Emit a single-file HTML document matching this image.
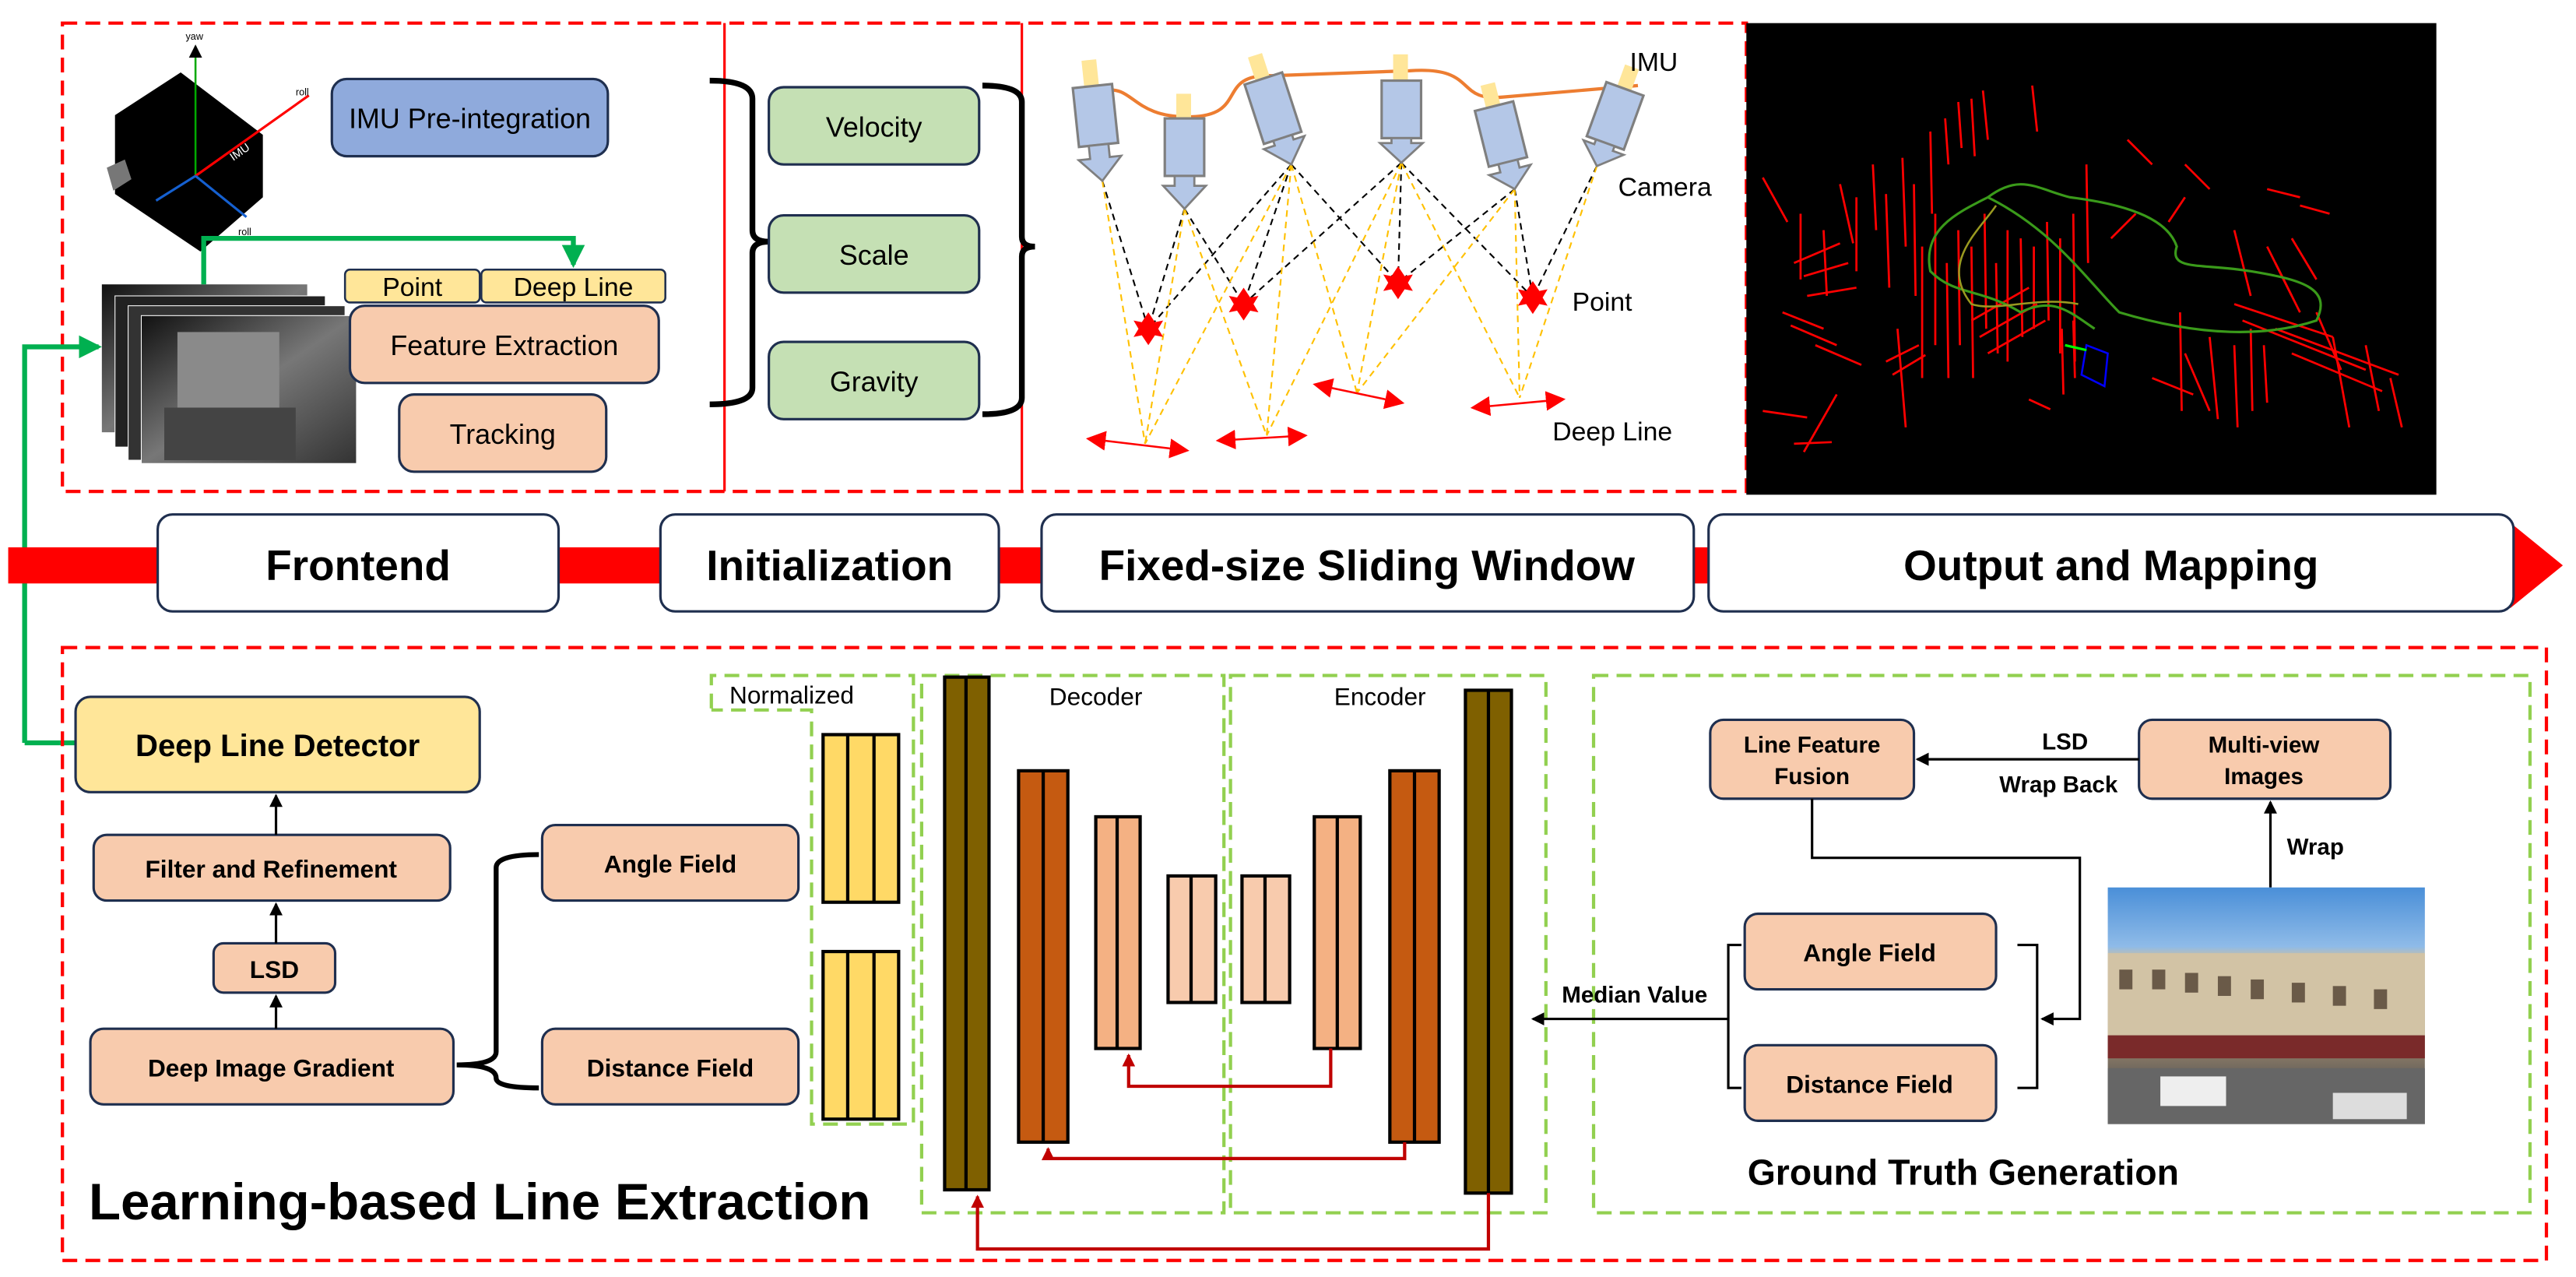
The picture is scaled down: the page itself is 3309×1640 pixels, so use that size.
<!DOCTYPE html>
<html><head><meta charset="utf-8"><style>
html,body{margin:0;padding:0;background:#fff;}
svg{display:block;}
text{font-family:"Liberation Sans","DejaVu Sans",sans-serif;fill:#000;}
</style></head><body>
<svg width="3309" height="1640" viewBox="0 0 1568 777" xmlns="http://www.w3.org/2000/svg">
<defs>
<marker id="ab" markerWidth="8" markerHeight="8" refX="7" refY="4" orient="auto" markerUnits="userSpaceOnUse"><path d="M0,0 L8,4 L0,8 z" fill="#000"/></marker>
<marker id="ag" markerWidth="14" markerHeight="14" refX="12" refY="7" orient="auto" markerUnits="userSpaceOnUse"><path d="M0,0 L14,7 L0,14 z" fill="#00b050"/></marker>
<marker id="ar" markerWidth="8" markerHeight="8" refX="7" refY="4" orient="auto" markerUnits="userSpaceOnUse"><path d="M0,0 L8,4 L0,8 z" fill="#c00000"/></marker>
<marker id="rr" markerWidth="12" markerHeight="12" refX="10" refY="6" orient="auto-start-reverse" markerUnits="userSpaceOnUse"><path d="M0,0 L12,6 L0,12 z" fill="#f00"/></marker>
<linearGradient id="gimg" x1="0" y1="0" x2="1" y2="1"><stop offset="0" stop-color="#111"/><stop offset="0.5" stop-color="#777"/><stop offset="1" stop-color="#333"/></linearGradient>
<linearGradient id="street" x1="0" y1="0" x2="0" y2="1"><stop offset="0" stop-color="#4a8fd8"/><stop offset="0.25" stop-color="#8fbbe8"/><stop offset="0.3" stop-color="#cdbfa0"/><stop offset="0.7" stop-color="#8a7a66"/><stop offset="0.85" stop-color="#555"/><stop offset="1" stop-color="#888"/></linearGradient>
</defs>

<rect x="38" y="14" width="1025" height="285" fill="none" stroke="#f00" stroke-width="2" stroke-dasharray="9,5"/>
<line x1="441" y1="14" x2="441" y2="299" stroke="#f00" stroke-width="1.5"/>
<line x1="622" y1="14" x2="622" y2="299" stroke="#f00" stroke-width="1.5"/>

<polygon points="70,70 110,44 160,82 160,120 122,153 70,118" fill="#000"/>
<polygon points="65,102 76,97 80,109 69,116" fill="#777"/>
<line x1="119" y1="107" x2="119" y2="28" stroke="#0a0" stroke-width="1.2" marker-end="url(#ab)"/>
<line x1="119" y1="107" x2="188" y2="58" stroke="#f00" stroke-width="1.5"/>
<line x1="119" y1="107" x2="150" y2="132" stroke="#1560d0" stroke-width="1.5"/>
<line x1="119" y1="107" x2="95" y2="122" stroke="#1560d0" stroke-width="1.5"/>
<text x="113" y="24" font-size="6">yaw</text>
<text x="180" y="58" font-size="6">roll</text>
<text x="145" y="143" font-size="6">roll</text>
<text x="142" y="98" font-size="7" style="fill:#fff" transform="rotate(-35 142 98)">IMU</text>

<rect x="202" y="48" width="168" height="47" rx="9" fill="#8faadc" stroke="#1f2f4f" stroke-width="1.5"/>
<text x="286" y="78" font-size="17" text-anchor="middle">IMU Pre-integration</text>

<rect x="62" y="173" width="125" height="90" fill="url(#gimg)"/>
<rect x="70" y="180" width="128" height="92" fill="#222" stroke="#fff" stroke-width="0.5"/>
<rect x="78" y="186" width="132" height="94" fill="#333" stroke="#fff" stroke-width="0.5"/>
<rect x="86" y="192" width="131" height="90" fill="url(#gimg)" stroke="#fff" stroke-width="0.5"/>
<rect x="108" y="202" width="62" height="50" fill="#8a8a8a"/>
<rect x="100" y="248" width="80" height="32" fill="#444"/>
<polyline points="124,173 124,145 349,145 349,161" fill="none" stroke="#00b050" stroke-width="3" marker-end="url(#ag)"/>
<polyline points="15,452 15,211 60,211" fill="none" stroke="#00b050" stroke-width="3" marker-end="url(#ag)"/>
<line x1="15" y1="452" x2="46" y2="452" stroke="#00b050" stroke-width="3"/>

<rect x="210" y="164" width="82" height="20" rx="3" fill="#ffe699" stroke="#1f2f4f" stroke-width="1.2"/>
<text x="251" y="180" font-size="16" text-anchor="middle">Point</text>
<rect x="293" y="164" width="112" height="20" rx="3" fill="#ffe699" stroke="#1f2f4f" stroke-width="1.2"/>
<text x="349" y="180" font-size="16" text-anchor="middle">Deep Line</text>
<rect x="213" y="186" width="188" height="47" rx="9" fill="#f8cbad" stroke="#1f2f4f" stroke-width="1.5"/>
<text x="307" y="216" font-size="17" text-anchor="middle">Feature Extraction</text>
<rect x="243" y="240" width="126" height="47" rx="9" fill="#f8cbad" stroke="#1f2f4f" stroke-width="1.5"/>
<text x="306" y="270" font-size="17" text-anchor="middle">Tracking</text>

<path d="M432,49 Q458,49 458,60 L458,140 Q458,147 468,147 Q458,147 458,154 L458,236 Q458,246 432,246" fill="none" stroke="#000" stroke-width="3.5"/>

<rect x="468" y="53" width="128" height="47" rx="9" fill="#c5e0b4" stroke="#1f2f4f" stroke-width="1.5"/>
<text x="532" y="83" font-size="17" text-anchor="middle">Velocity</text>
<rect x="468" y="131" width="128" height="47" rx="9" fill="#c5e0b4" stroke="#1f2f4f" stroke-width="1.5"/>
<text x="532" y="161" font-size="17" text-anchor="middle">Scale</text>
<rect x="468" y="208" width="128" height="47" rx="9" fill="#c5e0b4" stroke="#1f2f4f" stroke-width="1.5"/>
<text x="532" y="238" font-size="17" text-anchor="middle">Gravity</text>
<path d="M598,52 Q622,52 622,62 L622,144 Q622,150 630,150 Q622,150 622,156 L622,242 Q622,252 598,252" fill="none" stroke="#000" stroke-width="3.5"/>

<path d="M673,55 C690,52 690,72 725,71 C760,70 740,45 774,46 L858,43 C900,40 885,62 915,59 L997,52" fill="none" stroke="#ed7d31" stroke-width="2"/>
<g fill="none" stroke-dasharray="4,3" stroke-width="1">
<g stroke="#000">
<line x1="671" y1="110" x2="699" y2="200"/><line x1="721" y1="127" x2="699" y2="200"/><line x1="721" y1="127" x2="757" y2="185"/>
<line x1="786" y1="100" x2="699" y2="200"/><line x1="786" y1="100" x2="757" y2="185"/><line x1="786" y1="100" x2="851" y2="172"/>
<line x1="853" y1="99" x2="757" y2="185"/><line x1="853" y1="99" x2="851" y2="172"/><line x1="853" y1="99" x2="933" y2="181"/>
<line x1="922" y1="115" x2="851" y2="172"/><line x1="922" y1="115" x2="933" y2="181"/><line x1="972" y1="101" x2="933" y2="181"/>
</g>
<g stroke="#ffc000">
<line x1="671" y1="110" x2="697" y2="270"/><line x1="721" y1="127" x2="697" y2="270"/><line x1="786" y1="100" x2="697" y2="270"/>
<line x1="721" y1="127" x2="771" y2="265"/><line x1="786" y1="100" x2="771" y2="265"/><line x1="853" y1="99" x2="771" y2="265"/>
<line x1="786" y1="100" x2="826" y2="239"/><line x1="853" y1="99" x2="826" y2="239"/><line x1="922" y1="115" x2="826" y2="239"/>
<line x1="853" y1="99" x2="925" y2="242"/><line x1="922" y1="115" x2="925" y2="242"/><line x1="972" y1="101" x2="925" y2="242"/>
</g></g>
<g>
<g transform="translate(671,110) rotate(-6)"><rect x="-5" y="-74" width="9" height="16" fill="#ffe699"/><rect x="-12" y="-58" width="24" height="36" fill="#b4c7e7" stroke="#7f7f7f" stroke-width="1.5"/><polygon points="-6,-22 6,-22 6,-14 13,-14 0,0 -13,-14 -6,-14" fill="#b4c7e7" stroke="#7f7f7f" stroke-width="1.3"/></g>
<g transform="translate(721,127) rotate(0)"><rect x="-5" y="-70" width="9" height="16" fill="#ffe699"/><rect x="-12" y="-55" width="24" height="35" fill="#b4c7e7" stroke="#7f7f7f" stroke-width="1.5"/><polygon points="-6,-20 6,-20 6,-14 13,-14 0,0 -13,-14 -6,-14" fill="#b4c7e7" stroke="#7f7f7f" stroke-width="1.3"/></g>
<g transform="translate(786,100) rotate(-18)"><rect x="-5" y="-70" width="9" height="16" fill="#ffe699"/><rect x="-12" y="-55" width="24" height="38" fill="#b4c7e7" stroke="#7f7f7f" stroke-width="1.5"/><polygon points="-6,-17 6,-17 6,-14 13,-14 0,0 -13,-14 -6,-14" fill="#b4c7e7" stroke="#7f7f7f" stroke-width="1.3"/></g>
<g transform="translate(853,99)"><rect x="-5" y="-66" width="9" height="16" fill="#ffe699"/><rect x="-12" y="-50" width="24" height="35" fill="#b4c7e7" stroke="#7f7f7f" stroke-width="1.5"/><polygon points="-6,-15 6,-15 6,-12 13,-12 0,0 -13,-12 -6,-12" fill="#b4c7e7" stroke="#7f7f7f" stroke-width="1.3"/></g>
<g transform="translate(922,115) rotate(-14)"><rect x="-5" y="-66" width="9" height="16" fill="#ffe699"/><rect x="-12" y="-52" width="24" height="35" fill="#b4c7e7" stroke="#7f7f7f" stroke-width="1.5"/><polygon points="-6,-17 6,-17 6,-12 13,-12 0,0 -13,-12 -6,-12" fill="#b4c7e7" stroke="#7f7f7f" stroke-width="1.3"/></g>
<g transform="translate(972,101) rotate(20)"><rect x="-5" y="-64" width="9" height="16" fill="#ffe699"/><rect x="-12" y="-50" width="24" height="35" fill="#b4c7e7" stroke="#7f7f7f" stroke-width="1.5"/><polygon points="-6,-15 6,-15 6,-12 13,-12 0,0 -13,-12 -6,-12" fill="#b4c7e7" stroke="#7f7f7f" stroke-width="1.3"/></g>
</g>
<g fill="#f00">
<polygon transform="translate(699,200)" points="0,-10 4,-4 9,-5 6,0 9,5 4,4 0,10 -4,4 -9,5 -6,0 -9,-5 -4,-4"/>
<polygon transform="translate(757,185)" points="0,-10 4,-4 9,-5 6,0 9,5 4,4 0,10 -4,4 -9,5 -6,0 -9,-5 -4,-4"/>
<polygon transform="translate(851,172)" points="0,-10 4,-4 9,-5 6,0 9,5 4,4 0,10 -4,4 -9,5 -6,0 -9,-5 -4,-4"/>
<polygon transform="translate(933,181)" points="0,-10 4,-4 9,-5 6,0 9,5 4,4 0,10 -4,4 -9,5 -6,0 -9,-5 -4,-4"/>
</g>
<g stroke="#f00" stroke-width="1.2" marker-start="url(#rr)" marker-end="url(#rr)">
<line x1="663" y1="267" x2="722" y2="274"/><line x1="742" y1="268" x2="794" y2="265"/>
<line x1="801" y1="234" x2="853" y2="245"/><line x1="897" y1="248" x2="951" y2="243"/>
</g>
<text x="992" y="43" font-size="16">IMU</text>
<text x="985" y="119" font-size="16">Camera</text>
<text x="957" y="189" font-size="16">Point</text>
<text x="945" y="268" font-size="16">Deep Line</text>

<rect x="1063" y="14" width="420" height="287" fill="#000"/>
<g stroke="#f00" stroke-width="1.3">
<line x1="1073" y1="108" x2="1088" y2="135"/><line x1="1096" y1="130" x2="1096" y2="170"/><line x1="1110" y1="140" x2="1112" y2="180"/>
<line x1="1120" y1="112" x2="1128" y2="148"/><line x1="1130" y1="120" x2="1130" y2="165"/><line x1="1140" y1="100" x2="1142" y2="140"/>
<line x1="1148" y1="118" x2="1150" y2="175"/><line x1="1158" y1="96" x2="1160" y2="150"/><line x1="1165" y1="112" x2="1166" y2="180"/>
<line x1="1175" y1="80" x2="1176" y2="130"/><line x1="1184" y1="72" x2="1186" y2="100"/><line x1="1192" y1="62" x2="1194" y2="90"/>
<line x1="1200" y1="60" x2="1202" y2="95"/><line x1="1207" y1="55" x2="1210" y2="85"/><line x1="1237" y1="52" x2="1240" y2="80"/>
<line x1="1092" y1="160" x2="1120" y2="148"/><line x1="1098" y1="168" x2="1125" y2="160"/><line x1="1100" y1="180" x2="1130" y2="175"/>
<line x1="1085" y1="190" x2="1110" y2="200"/><line x1="1090" y1="198" x2="1118" y2="210"/><line x1="1105" y1="210" x2="1133" y2="222"/>
<line x1="1118" y1="240" x2="1098" y2="275" /><line x1="1073" y1="250" x2="1100" y2="254"/><line x1="1092" y1="270" x2="1115" y2="269"/>
<line x1="1148" y1="220" x2="1168" y2="210"/><line x1="1152" y1="228" x2="1172" y2="216"/><line x1="1155" y1="200" x2="1160" y2="260"/>
<line x1="1170" y1="150" x2="1170" y2="230"/><line x1="1178" y1="130" x2="1178" y2="210"/><line x1="1185" y1="160" x2="1186" y2="230"/>
<line x1="1192" y1="140" x2="1193" y2="210"/><line x1="1200" y1="150" x2="1201" y2="230"/><line x1="1208" y1="130" x2="1209" y2="200"/>
<line x1="1215" y1="160" x2="1216" y2="215"/><line x1="1222" y1="140" x2="1222" y2="220"/><line x1="1230" y1="145" x2="1231" y2="205"/>
<line x1="1238" y1="150" x2="1238" y2="200"/><line x1="1246" y1="135" x2="1247" y2="195"/><line x1="1254" y1="145" x2="1254" y2="215"/>
<line x1="1262" y1="130" x2="1263" y2="220"/><line x1="1270" y1="100" x2="1271" y2="160"/><line x1="1200" y1="195" x2="1235" y2="175"/>
<line x1="1205" y1="205" x2="1240" y2="185"/><line x1="1210" y1="215" x2="1245" y2="195"/><line x1="1255" y1="200" x2="1256" y2="240"/>
<line x1="1262" y1="195" x2="1263" y2="230"/><line x1="1285" y1="145" x2="1300" y2="130"/><line x1="1295" y1="85" x2="1310" y2="100"/>
<line x1="1330" y1="100" x2="1345" y2="115"/><line x1="1320" y1="135" x2="1330" y2="120"/><line x1="1310" y1="230" x2="1335" y2="240"/>
<line x1="1330" y1="215" x2="1345" y2="250"/><line x1="1345" y1="205" x2="1350" y2="255"/><line x1="1360" y1="210" x2="1362" y2="260"/>
<line x1="1370" y1="200" x2="1371" y2="250"/><line x1="1378" y1="210" x2="1380" y2="245"/><line x1="1360" y1="185" x2="1420" y2="205"/>
<line x1="1365" y1="195" x2="1440" y2="225"/><line x1="1385" y1="200" x2="1460" y2="228"/><line x1="1395" y1="215" x2="1450" y2="238"/>
<line x1="1420" y1="205" x2="1430" y2="260"/><line x1="1440" y1="210" x2="1448" y2="250"/><line x1="1455" y1="230" x2="1462" y2="260"/>
<line x1="1360" y1="140" x2="1370" y2="180"/><line x1="1380" y1="150" x2="1395" y2="180"/><line x1="1385" y1="160" x2="1400" y2="190"/>
<line x1="1395" y1="145" x2="1410" y2="170"/><line x1="1380" y1="115" x2="1400" y2="120"/><line x1="1400" y1="125" x2="1418" y2="130"/>
<line x1="1327" y1="190" x2="1328" y2="250"/><line x1="1235" y1="243" x2="1248" y2="249"/><line x1="1410" y1="190" x2="1425" y2="225"/>
</g>
<path d="M1210,120 C1230,105 1240,115 1260,120 C1300,125 1320,135 1325,150 C1320,165 1340,160 1370,165 C1400,170 1420,175 1410,195 C1380,205 1340,205 1290,190 C1270,170 1250,140 1210,120 C1190,130 1170,140 1175,165 C1190,180 1205,175 1230,190 C1250,180 1260,190 1275,200" fill="none" stroke="#3a9a1a" stroke-width="1.5"/>
<path d="M1215,125 C1205,140 1180,160 1200,185 C1215,190 1240,180 1265,185" fill="none" stroke="#9a9a20" stroke-width="1.2"/>
<polygon points="1270,210 1283,215 1281,235 1267,228" fill="none" stroke="#00f" stroke-width="1.2"/>
<line x1="1257" y1="210" x2="1270" y2="213" stroke="#0f0" stroke-width="1.5"/>

<rect x="5" y="333" width="1528" height="22" fill="#f00"/>
<polygon points="1528,318 1560,344 1528,370" fill="#f00"/>
<rect x="96" y="313" width="244" height="59" rx="9" fill="#fff" stroke="#1f2f4f" stroke-width="1.5"/>
<text x="218" y="353" font-size="26" font-weight="bold" text-anchor="middle">Frontend</text>
<rect x="402" y="313" width="206" height="59" rx="9" fill="#fff" stroke="#1f2f4f" stroke-width="1.5"/>
<text x="505" y="353" font-size="26" font-weight="bold" text-anchor="middle">Initialization</text>
<rect x="634" y="313" width="397" height="59" rx="9" fill="#fff" stroke="#1f2f4f" stroke-width="1.5"/>
<text x="832" y="353" font-size="26" font-weight="bold" text-anchor="middle">Fixed-size Sliding Window</text>
<rect x="1040" y="313" width="490" height="59" rx="9" fill="#fff" stroke="#1f2f4f" stroke-width="1.5"/>
<text x="1285" y="353" font-size="26" font-weight="bold" text-anchor="middle">Output and Mapping</text>

<rect x="38" y="394" width="1512" height="373" fill="none" stroke="#f00" stroke-width="2" stroke-dasharray="9,5"/>

<rect x="46" y="424" width="246" height="58" rx="9" fill="#ffe699" stroke="#1f2f4f" stroke-width="1.5"/>
<text x="169" y="460" font-size="19" font-weight="bold" text-anchor="middle">Deep Line Detector</text>
<rect x="57" y="508" width="217" height="40" rx="8" fill="#f8cbad" stroke="#1f2f4f" stroke-width="1.5"/>
<text x="165" y="534" font-size="15" font-weight="bold" text-anchor="middle">Filter and Refinement</text>
<rect x="130" y="574" width="74" height="30" rx="6" fill="#f8cbad" stroke="#1f2f4f" stroke-width="1.5"/>
<text x="167" y="595" font-size="15" font-weight="bold" text-anchor="middle">LSD</text>
<rect x="55" y="626" width="221" height="46" rx="8" fill="#f8cbad" stroke="#1f2f4f" stroke-width="1.5"/>
<text x="165" y="655" font-size="15" font-weight="bold" text-anchor="middle">Deep Image Gradient</text>
<line x1="168" y1="508" x2="168" y2="484" stroke="#000" stroke-width="1.5" marker-end="url(#ab)"/>
<line x1="168" y1="574" x2="168" y2="550" stroke="#000" stroke-width="1.5" marker-end="url(#ab)"/>
<line x1="168" y1="626" x2="168" y2="606" stroke="#000" stroke-width="1.5" marker-end="url(#ab)"/>
<path d="M328,520 Q302,520 302,528 L302,640 Q302,648 278,648 Q302,648 302,656 Q302,662 328,662" fill="none" stroke="#000" stroke-width="3"/>
<rect x="330" y="502" width="156" height="46" rx="8" fill="#f8cbad" stroke="#1f2f4f" stroke-width="1.5"/>
<text x="408" y="531" font-size="15" font-weight="bold" text-anchor="middle">Angle Field</text>
<rect x="330" y="626" width="156" height="46" rx="8" fill="#f8cbad" stroke="#1f2f4f" stroke-width="1.5"/>
<text x="408" y="655" font-size="15" font-weight="bold" text-anchor="middle">Distance Field</text>
<text x="54" y="742" font-size="31" font-weight="bold" textLength="476" lengthAdjust="spacingAndGlyphs">Learning-based Line Extraction</text>

<path d="M433,431 L433,411 L556,411 L556,684 L494,684 L494,432 L433,432" fill="none" stroke="#92d050" stroke-width="2" stroke-dasharray="9,5"/>
<text x="444" y="428" font-size="15">Normalized</text>
<g fill="#ffd966" stroke="#000" stroke-width="2">
<rect x="501" y="447" width="46" height="102"/><line x1="516" y1="447" x2="516" y2="549"/><line x1="532" y1="447" x2="532" y2="549"/>
<rect x="501" y="579" width="46" height="102"/><line x1="516" y1="579" x2="516" y2="681"/><line x1="532" y1="579" x2="532" y2="681"/>
</g>
<rect x="561" y="411" width="184" height="327" fill="none" stroke="#92d050" stroke-width="2" stroke-dasharray="9,5"/>
<rect x="749" y="411" width="192" height="327" fill="none" stroke="#92d050" stroke-width="2" stroke-dasharray="9,5"/>
<text x="667" y="429" font-size="15" text-anchor="middle">Decoder</text>
<text x="840" y="429" font-size="15" text-anchor="middle">Encoder</text>
<g stroke="#000" stroke-width="2">
<rect x="575" y="412" width="27" height="312" fill="#7f6000"/><line x1="588" y1="412" x2="588" y2="724"/>
<rect x="620" y="469" width="30" height="226" fill="#c55a11"/><line x1="635" y1="469" x2="635" y2="695"/>
<rect x="667" y="497" width="27" height="141" fill="#f4b183"/><line x1="680" y1="497" x2="680" y2="638"/>
<rect x="711" y="533" width="29" height="77" fill="#f8cbad"/><line x1="725" y1="533" x2="725" y2="610"/>
<rect x="756" y="533" width="29" height="77" fill="#f8cbad"/><line x1="770" y1="533" x2="770" y2="610"/>
<rect x="800" y="497" width="28" height="141" fill="#f4b183"/><line x1="814" y1="497" x2="814" y2="638"/>
<rect x="846" y="469" width="30" height="226" fill="#c55a11"/><line x1="861" y1="469" x2="861" y2="695"/>
<rect x="892" y="420" width="28" height="306" fill="#7f6000"/><line x1="906" y1="420" x2="906" y2="726"/>
</g>
<g fill="none" stroke="#c00000" stroke-width="2">
<polyline points="810,638 810,661 687,661 687,642" marker-end="url(#ar)"/>
<polyline points="855,695 855,705 638,705 638,699" marker-end="url(#ar)"/>
<polyline points="906,726 906,760 595,760 595,728" marker-end="url(#ar)"/>
</g>

<rect x="970" y="411" width="570" height="327" fill="none" stroke="#92d050" stroke-width="2" stroke-dasharray="9,5"/>
<rect x="1041" y="438" width="124" height="48" rx="8" fill="#f8cbad" stroke="#1f2f4f" stroke-width="1.5"/>
<text x="1103" y="458" font-size="14" font-weight="bold" text-anchor="middle">Line Feature</text>
<text x="1103" y="477" font-size="14" font-weight="bold" text-anchor="middle">Fusion</text>
<rect x="1302" y="438" width="153" height="48" rx="8" fill="#f8cbad" stroke="#1f2f4f" stroke-width="1.5"/>
<text x="1378" y="458" font-size="14" font-weight="bold" text-anchor="middle">Multi-view</text>
<text x="1378" y="477" font-size="14" font-weight="bold" text-anchor="middle">Images</text>
<line x1="1302" y1="462" x2="1167" y2="462" stroke="#000" stroke-width="1.5" marker-end="url(#ab)"/>
<text x="1257" y="456" font-size="14" font-weight="bold" text-anchor="middle">LSD</text>
<text x="1253" y="482" font-size="14" font-weight="bold" text-anchor="middle">Wrap Back</text>
<line x1="1382" y1="540" x2="1382" y2="488" stroke="#000" stroke-width="1.5" marker-end="url(#ab)"/>
<text x="1392" y="520" font-size="14" font-weight="bold">Wrap</text>
<rect x="1283" y="540" width="193" height="144" fill="url(#street)"/>
<rect x="1283" y="580" width="193" height="50" fill="#d2c3a5"/>
<g fill="#6a5a48"><rect x="1290" y="590" width="8" height="12"/><rect x="1310" y="590" width="8" height="12"/><rect x="1330" y="592" width="8" height="12"/><rect x="1350" y="594" width="8" height="12"/><rect x="1370" y="596" width="8" height="12"/><rect x="1395" y="598" width="8" height="12"/><rect x="1420" y="600" width="8" height="12"/><rect x="1445" y="602" width="8" height="12"/></g>
<rect x="1283" y="630" width="193" height="14" fill="#7a2a2a"/>
<rect x="1283" y="650" width="193" height="34" fill="#666"/>
<rect x="1315" y="655" width="40" height="18" fill="#eee"/>
<rect x="1420" y="665" width="45" height="16" fill="#ddd"/>
<rect x="1062" y="556" width="153" height="46" rx="8" fill="#f8cbad" stroke="#1f2f4f" stroke-width="1.5"/>
<text x="1138" y="585" font-size="15" font-weight="bold" text-anchor="middle">Angle Field</text>
<rect x="1062" y="636" width="153" height="46" rx="8" fill="#f8cbad" stroke="#1f2f4f" stroke-width="1.5"/>
<text x="1138" y="665" font-size="15" font-weight="bold" text-anchor="middle">Distance Field</text>
<path d="M1060,575 L1052,575 L1052,662 L1060,662" fill="none" stroke="#000" stroke-width="1.5"/>
<path d="M1228,575 L1240,575 L1240,662 L1228,662" fill="none" stroke="#000" stroke-width="1.5"/>
<line x1="1052" y1="620" x2="933" y2="620" stroke="#000" stroke-width="1.5" marker-end="url(#ab)"/>
<text x="995" y="610" font-size="14" font-weight="bold" text-anchor="middle">Median Value</text>
<polyline points="1103,486 1103,522 1266,522 1266,620 1243,620" fill="none" stroke="#000" stroke-width="1.5" marker-end="url(#ab)"/>
<text x="1195" y="721" font-size="22" font-weight="bold" text-anchor="middle">Ground Truth Generation</text>
</svg>
</body></html>
